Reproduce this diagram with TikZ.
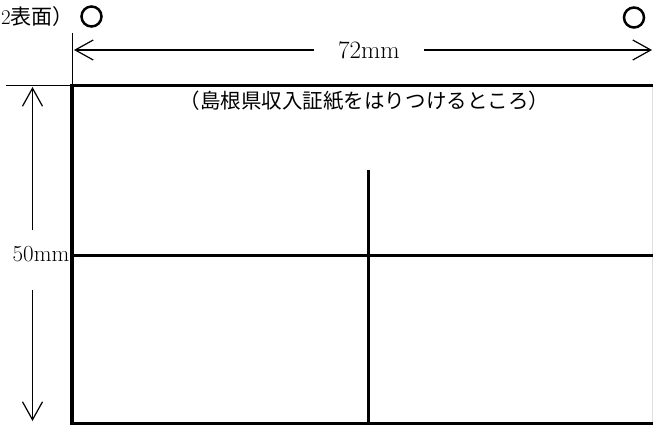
\documentclass[tikz,border=0pt]{standalone}
\usepackage{fontspec}
\newfontfamily\jp{Noto Sans CJK JP}
\usetikzlibrary{arrows.meta,positioning}
\tikzset{
  thinline/.style={black, line width=1pt},
  frameline/.style={black, line width=3.5pt},
  splitline/.style={black, line width=3pt},
  dimarrow/.style={black, line width=1.2pt, -{Straight Barb[length=18pt,width=20pt]}},
  holemark/.style={circle, draw=black, line width=2.5pt, minimum size=20pt, inner sep=0pt},
}
\begin{document}
\begin{tikzpicture}[x=1pt,y=-1pt]
\useasboundingbox (0,0) rectangle (653,425);
% corners of the stamp area
\coordinate (tl) at (72,85.5);
\coordinate (tr) at (653,85.5);
\coordinate (bl) at (72,423.5);
\coordinate (br) at (653,423.5);
\coordinate (ml) at (72,255);
\coordinate (mr) at (653,255);
\coordinate (vt) at (368.5,170);
\coordinate (vb) at (368.5,424);
% heading and punch marks
\node[anchor=west, inner sep=0pt, font=\fontsize{21}{23}\selectfont] (side) at (1,17) {2{\jp 表面）}};
\node[holemark] (holeL) at (91.5,16.5) {};
\node[holemark] (holeR) at (634,17.5) {};
% width dimension
\coordinate (wl) at (74,50);
\coordinate (wr) at (652,50);
\node[inner xsep=24pt, font=\fontsize{25}{27}\selectfont] (width) at (369,50) {72mm};
\draw[dimarrow] (width) -- (wl);
\draw[dimarrow] (width) -- (wr);
% height dimension
\coordinate (ht) at (32.5,87);
\coordinate (hb) at (32.5,421);
\node[inner sep=0pt, font=\fontsize{23}{25}\selectfont] (height) at (41,254) {50mm};
\draw[dimarrow] (ht |- 230,230) -- (ht);
\draw[dimarrow] (hb |- 290,290) -- (hb);
% guide lines
\draw[thinline] (6,85.5) -- (tl);
\draw[thinline] (72,33) -- (tl);
\draw[gray!25, line width=1pt] (652,85.5) -- (652,424);
% frame
\draw[frameline] (tr) -- (tl) -- (bl) -- (br);
\draw[splitline] (ml) -- (mr);
\draw[splitline] (vt) -- (vb);
\node[font=\jp\fontsize{20.5}{22}\selectfont, inner sep=0pt] (title) at (364.5,101) {（島根県収入証紙をはりつけるところ）};
\end{tikzpicture}
\end{document}
